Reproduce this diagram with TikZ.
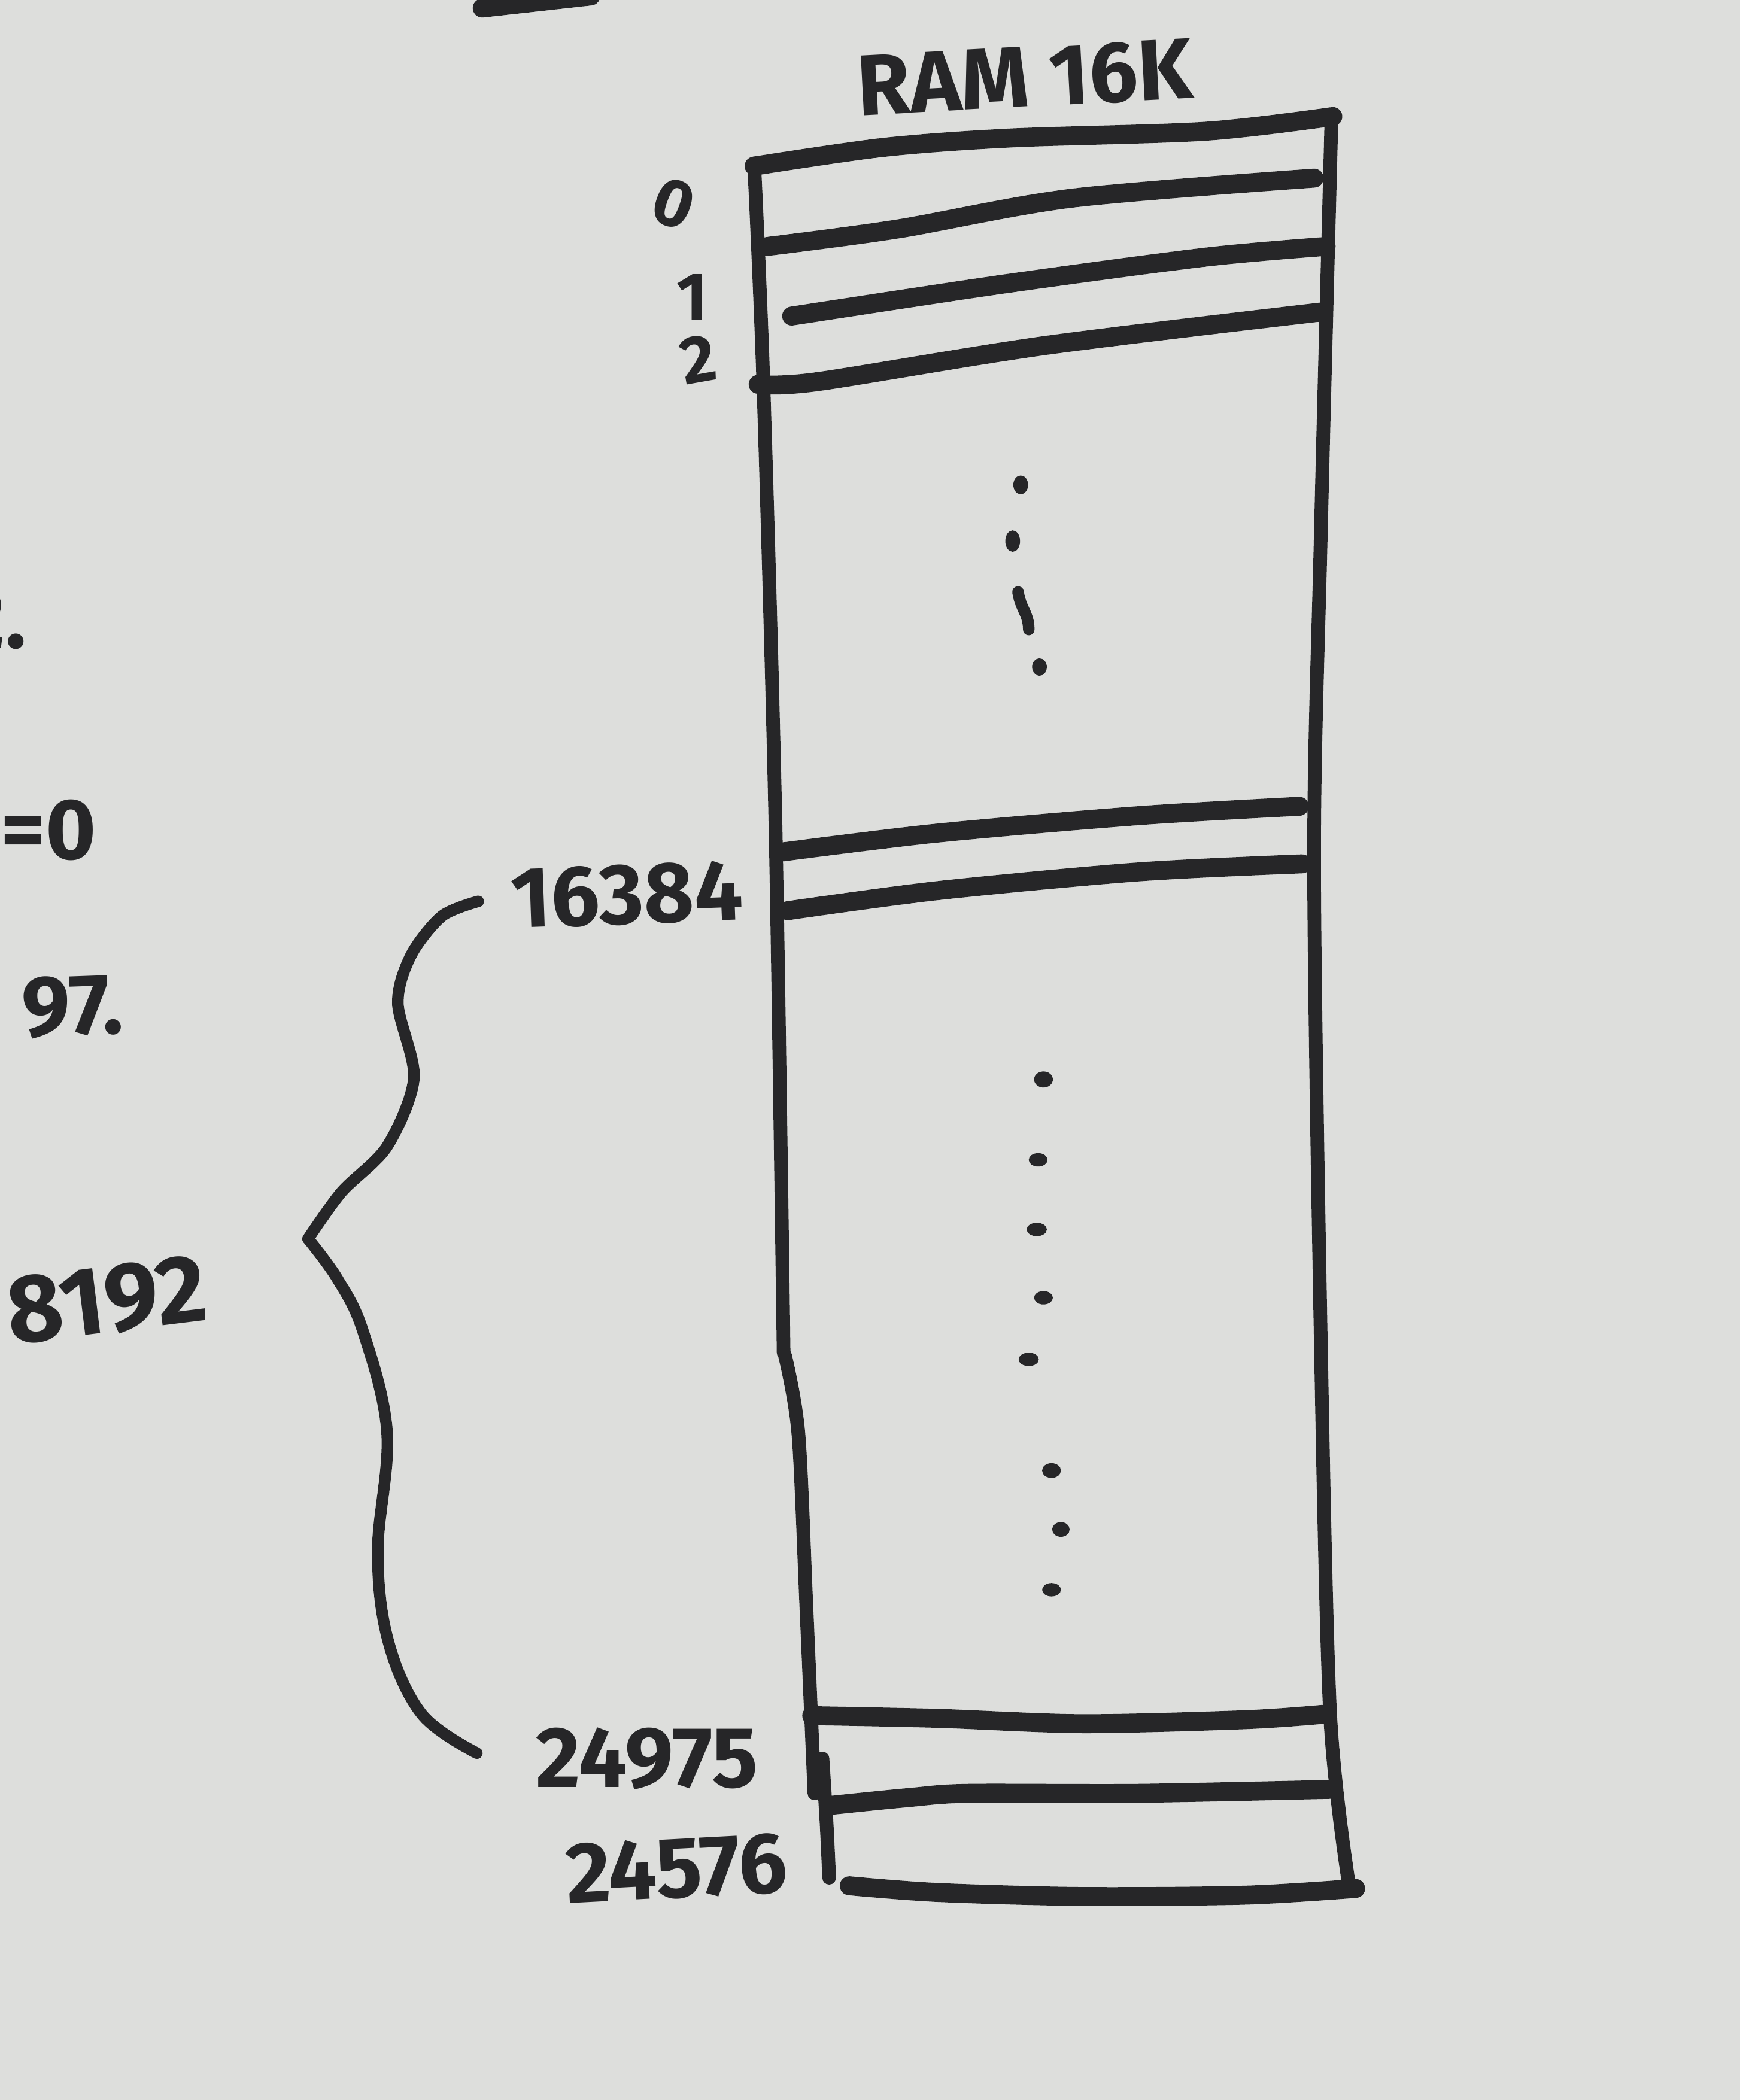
\documentclass[tikz,border=0pt]{standalone}
\usepackage{fontspec}
\setmainfont{Fira Sans}
\definecolor{paper}{RGB}{221,222,220}
\definecolor{ink}{RGB}{38,38,40}
\begin{document}
\begin{tikzpicture}[x=0.022386cm,y=-0.022386cm,
  hline/.style={ink, line width=9pt, line cap=round, line join=round},
  vline/.style={ink, line width=6.5pt, line cap=round, line join=round},
  bracestroke/.style={ink, line width=5.5pt, line cap=round, line join=round},
  hand/.style={text=ink, font=\bfseries\fontsize{41}{45}\selectfont, inner sep=0pt},
  bighand/.style={text=ink, font=\bfseries\fontsize{46}{50}\selectfont, inner sep=0pt},
  smallhand/.style={text=ink, font=\bfseries\fontsize{32}{36}\selectfont, inner sep=0pt},
  dotmark/.style={fill=ink}]
\fill[paper] (0,0) rectangle (1299,1568);
\useasboundingbox (0,0) rectangle (1299,1568);

% stray stroke at top
\draw[hline] (360,6) -- (441,-3);

% title
\node[hand, rotate=3] (title) at (765,58) {RAM 16K};

% outer box sides
\draw[vline] plot[smooth] coordinates {(563,122) (570,290) (579,620) (585,1010)};
\draw[vline] plot[smooth] coordinates {(586,1012) (596,1070) (602,1200) (608,1339)};
\draw[vline] plot[smooth] coordinates {(614,1313) (617,1360) (619,1402)};
\draw[vline] plot[smooth] coordinates {(994,88) (986,400) (981,640) (986,1000) (993,1280) (1007,1407)};

% top line
\draw[hline] plot[smooth] coordinates {(563,124) (660,110) (755,103) (900,98) (995,87)};
% cells 0,1,2
\draw[hline] plot[smooth] coordinates {(573,184) (670,171) (800,148) (981,133)};
\draw[hline] plot[smooth] coordinates {(591,236) (750,212) (900,192) (990,184)};
\draw[hline] plot[smooth] coordinates {(566,287) (610,285) (780,258) (986,233)};
% 16384 cell
\draw[hline] plot[smooth] coordinates {(585,636) (700,622) (850,609) (970,602)};
\draw[hline] plot[smooth] coordinates {(588,680) (700,665) (850,651) (972,645)};
% bottom cells
\draw[hline] plot[smooth] coordinates {(606,1281) (700,1283) (808,1287) (930,1284) (988,1280)};
\draw[hline] plot[smooth] coordinates {(620,1348) (680,1342) (723,1339) (850,1339) (994,1336)};
\draw[hline] plot[smooth] coordinates {(634,1408) (700,1413) (808,1416) (930,1415) (1012,1410)};

% index labels
\node[smallhand, rotate=-20] (l0) at (503,152) {0};
\node[smallhand] (l1) at (517,222) {1};
\node[smallhand, rotate=10] (l2) at (521,268) {2};
\node[hand, rotate=2] (l16384) at (468,668) {16384};
\node[hand] (l24975) at (483,1313) {24975};
\node[hand, rotate=3] (l24576) at (505,1395) {24576};

% upper dots
\fill[dotmark] (762,362) ellipse (5.5 and 7);
\fill[dotmark] (756,404) ellipse (5.5 and 8);
\draw[ink, line width=5.5pt, line cap=round] (760,442) .. controls (762,455) and (768,458) .. (768,470);
\fill[dotmark] (776,498) ellipse (5.5 and 6.5);

% lower dots
\fill[dotmark] (779,806) ellipse (7 and 6);
\fill[dotmark] (775,866) ellipse (7 and 5);
\fill[dotmark] (774,918) ellipse (7.5 and 5);
\fill[dotmark] (779,969) ellipse (7 and 5);
\fill[dotmark] (768,1015) ellipse (7.5 and 5);
\fill[dotmark] (785,1098) ellipse (7 and 5.5);
\fill[dotmark] (792,1142) ellipse (6.5 and 5.5);
\fill[dotmark] (785,1187) ellipse (7 and 5);

% brace
\draw[bracestroke] plot[smooth, tension=0.5] coordinates {(357,673) (330,684) (307,713) (297,749) (309,805) (289,856) (255,890) (230,925)};
\draw[bracestroke] plot[smooth, tension=0.6] coordinates {(230,925) (252,955) (271,994) (289,1070) (282,1159) (290,1226) (315,1280) (356,1309)};

% left margin fragments
\node[hand, anchor=east] (m2) at (20,462) {2.};
\node[hand, anchor=east] (meq) at (72,620) {=0};
\node[hand, anchor=east, rotate=2] (m97) at (92,750) {97.};
\node[bighand, anchor=west, rotate=7] (m8192) at (5,980) {8192};
\end{tikzpicture}
\end{document}
